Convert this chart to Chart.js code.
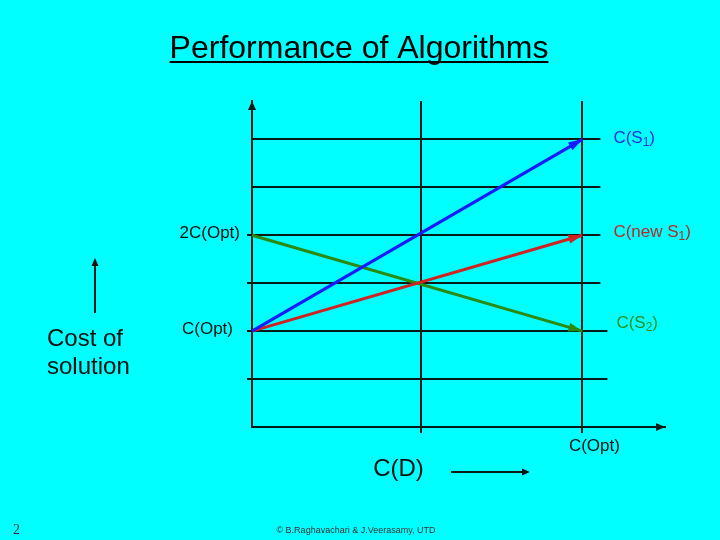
<!DOCTYPE html>
<html>
<head>
<meta charset="utf-8">
<script src="https://cdn.jsdelivr.net/npm/chart.js@4/dist/chart.umd.min.js"></script>
<style>
  html, body { margin: 0; padding: 0; background: #00ffff; }
  canvas { display: block; }
</style>
</head>
<body>
<canvas id="chart" width="720" height="540"></canvas>
<script>
// x positions: start of run and C(Opt) marker
const xValues = [0, 2];
// cost at start / end of each run
const costS1 = [1, 3];
const costNewS1 = [1, 2];
const costS2 = [2, 1];
const seriesNames = ['C(S', 'C(new S', 'C(S'];
const seriesSubs = ['1', '1', '2'];
// horizontal guide levels and vertical markers
const gridLevels = [0.5, 1, 1.5, 2, 2.5, 3];
const xMarks = [1.02, 2];
const xMarkLabels = ['C(D)', 'C(Opt)'];
const yLabelValues = [2, 1];
const yLabelTexts = ['2C(Opt)', 'C(Opt)'];

const FONT = '"Liberation Sans", Arial, sans-serif';
const lineColors = ['#1a1aff', '#d02222', '#2a8a12'];
const textColors = ['#2030e0', '#b52a2a', '#2a9020'];

function arrowHead(ctx, x, y, angle, len, half) {
    ctx.save();
    ctx.translate(x, y);
    ctx.rotate(angle);
    ctx.beginPath();
    ctx.moveTo(0, 0);
    ctx.lineTo(-len, -half);
    ctx.lineTo(-len, half);
    ctx.closePath();
    ctx.fill();
    ctx.restore();
}

function subText(ctx, x, y, main, sub, size, color) {
    ctx.fillStyle = color;
    ctx.font = size + 'px ' + FONT;
    ctx.textAlign = 'left';
    ctx.textBaseline = 'alphabetic';
    ctx.fillText(main, x, y);
    let w = ctx.measureText(main).width;
    ctx.font = Math.round(size * 0.68) + 'px ' + FONT;
    ctx.fillText(sub, x + w, y + 3);
    w += ctx.measureText(sub).width;
    ctx.font = size + 'px ' + FONT;
    ctx.fillText(')', x + w, y);
}

const guides = {
    id: 'guides',
    beforeDatasetsDraw(chart) {
        const {ctx, scales: {x, y}} = chart;
        ctx.save();
        ctx.strokeStyle = '#0a1a14';
        ctx.lineWidth = 2;
        gridLevels.forEach(lvl => {
            const py = Math.round(y.getPixelForValue(lvl));
            const left = x.getPixelForValue(0) - (lvl <= 2 ? 5 : 0);
            const right = x.getPixelForValue(2) + (lvl <= 1 ? 25 : 18);
            ctx.beginPath();
            ctx.moveTo(left, py);
            ctx.lineTo(right, py);
            ctx.stroke();
        });
        xMarks.forEach(m => {
            const px = Math.round(x.getPixelForValue(m));
            ctx.beginPath();
            ctx.moveTo(px, y.getPixelForValue(y.max));
            ctx.lineTo(px, y.getPixelForValue(0) + 6);
            ctx.stroke();
        });
        ctx.restore();
    },
    afterDatasetsDraw(chart) {
        const {ctx, scales: {x, y}} = chart;
        ctx.save();
        // arrowheads at the end of each run
        chart.data.datasets.forEach((ds, i) => {
            const pts = chart.getDatasetMeta(i).data;
            const a = pts[pts.length - 2], b = pts[pts.length - 1];
            ctx.fillStyle = lineColors[i];
            arrowHead(ctx, b.x, b.y, Math.atan2(b.y - a.y, b.x - a.x), 14, 4.5);
            const ox = i === 2 ? 34 : 31;
            const oy = [4, 2, -3][i];
            subText(ctx, b.x + ox, b.y + oy, seriesNames[i], seriesSubs[i], 17, textColors[i]);
        });
        // axis arrowheads
        ctx.fillStyle = '#0a1a14';
        arrowHead(ctx, x.getPixelForValue(0), y.top, -Math.PI / 2, 9, 4);
        arrowHead(ctx, x.right, y.getPixelForValue(0), 0, 9, 4);

        // y labels
        ctx.fillStyle = '#101010';
        ctx.font = '17px ' + FONT;
        ctx.textAlign = 'right';
        ctx.textBaseline = 'middle';
        yLabelValues.forEach((v, i) => {
            ctx.fillText(yLabelTexts[i], x.getPixelForValue(0) - (i === 0 ? 12 : 19), y.getPixelForValue(v) - 2);
        });

        // x labels
        ctx.textAlign = 'center';
        ctx.font = '24px ' + FONT;
        ctx.fillText(xMarkLabels[0], x.getPixelForValue(xMarks[0]) - 22, 469);
        ctx.font = '17px ' + FONT;
        ctx.fillText(xMarkLabels[1], x.getPixelForValue(xMarks[1]) + 12, 446);

        // C(D) arrow
        ctx.strokeStyle = '#0a1a14';
        ctx.lineWidth = 2;
        ctx.beginPath();
        ctx.moveTo(451, 472);
        ctx.lineTo(524, 472);
        ctx.stroke();
        arrowHead(ctx, 530, 472, 0, 8, 3.5);

        // cost of solution arrow
        ctx.beginPath();
        ctx.moveTo(95, 313);
        ctx.lineTo(95, 265);
        ctx.stroke();
        arrowHead(ctx, 95, 258, -Math.PI / 2, 8, 3.5);

        ctx.textAlign = 'left';
        ctx.textBaseline = 'alphabetic';
        ctx.font = '24px ' + FONT;
        ctx.fillText('Cost of', 47, 346);
        ctx.fillText('solution', 47, 374);

        // title
        ctx.textAlign = 'center';
        ctx.font = '32px ' + FONT;
        ctx.fillStyle = '#000';
        ctx.fillText('Performance of Algorithms', 359, 58);
        const tw = ctx.measureText('Performance of Algorithms').width;
        ctx.fillRect(359 - tw / 2, 61, tw, 2);

        // footer
        ctx.font = '14px "Liberation Serif", serif';
        ctx.textAlign = 'left';
        ctx.fillStyle = '#333';
        ctx.fillText('2', 13, 534);
        ctx.font = '9px ' + FONT;
        ctx.textAlign = 'center';
        ctx.fillText('© B.Raghavachari & J.Veerasamy, UTD', 356, 533);
        ctx.restore();
    }
};

const mk = (vals, i) => ({
    data: xValues.map((xv, k) => ({x: xv, y: vals[k]})),
    showLine: true,
    borderColor: lineColors[i],
    borderWidth: 3,
    pointRadius: 0,
    tension: 0,
    clip: false
});

new Chart(document.getElementById('chart'), {
    type: 'scatter',
    data: {
        datasets: [mk(costS1, 0), mk(costNewS1, 1), mk(costS2, 2)]
    },
    options: {
        responsive: false,
        animation: false,
        devicePixelRatio: 1,
        layout: { padding: { left: 252, right: 55, top: 101, bottom: 113 } },
        plugins: { legend: { display: false }, tooltip: { enabled: false } },
        scales: {
            x: {
                type: 'linear', min: 0, max: 2.5,
                grid: { display: false, drawTicks: false },
                ticks: { display: false },
                border: { display: true, color: '#0a1a14', width: 2 }
            },
            y: {
                type: 'linear', min: 0, max: 3.4,
                grid: { display: false, drawTicks: false },
                ticks: { display: false },
                border: { display: true, color: '#0a1a14', width: 2 }
            }
        }
    },
    plugins: [guides]
});
</script>
</body>
</html>
